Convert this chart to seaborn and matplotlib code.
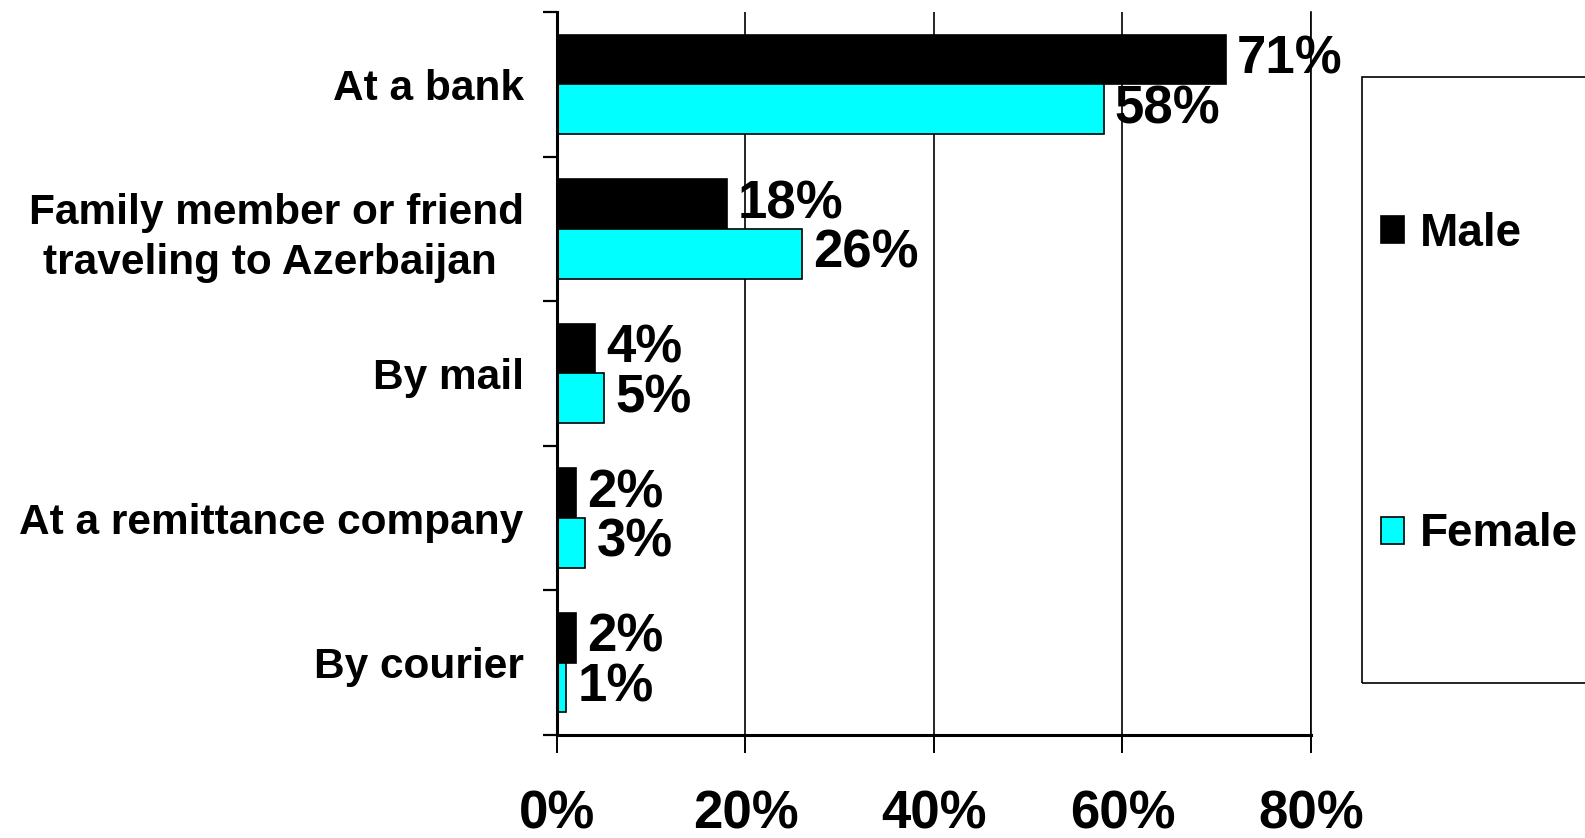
import pandas as pd
import matplotlib.pyplot as plt
import seaborn as sns
from matplotlib.patches import Patch, Rectangle
from matplotlib.ticker import FixedLocator

# === data ===
categories = ["At a bank",
              "Family member or friend\ntraveling to Azerbaijan ",
              "By mail",
              "At a remittance company",
              "By courier"]
male = [71, 18, 4, 2, 2]
female = [58, 26, 5, 3, 1]
groups = ["Male", "Female"]
colors = ["#000000", "#00FFFF"]
xticks = [0, 20, 40, 60, 80]

df = pd.DataFrame({
    "method": categories * 2,
    "share": male + female,
    "sex": ["Male"] * len(male) + ["Female"] * len(female),
})

sns.set_style("white")
plt.rcParams["font.family"] = ["Liberation Sans", "DejaVu Sans"]
plt.rcParams["font.weight"] = "bold"
plt.rcParams["text.color"] = "black"
plt.rcParams["xtick.color"] = "black"
plt.rcParams["ytick.color"] = "black"

fig = plt.figure(figsize=(15.85, 8.38), dpi=100)
ax = fig.add_axes([0.3514, 0.1229, 0.4757, 0.8628])

sns.barplot(data=df, y="method", x="share", hue="sex", hue_order=groups,
            palette=colors, saturation=1, orient="h", width=0.687,
            edgecolor="black", linewidth=1.2, ax=ax)
ax.get_legend().remove()

# value labels
for cont in ax.containers:
    ax.bar_label(cont, labels=[f"{v:g}%" for v in cont.datavalues],
                 padding=8, fontsize=38, fontweight="bold", color="black")

# axes styling
ax.set_xlim(0, 80)
ax.set_ylim(4.5, -0.5)
ax.set_xticks(xticks)
ax.set_xticklabels([f"{t}%" for t in xticks], fontsize=38, fontweight="bold")
ax.set_yticks(range(len(categories)))
ax.set_yticklabels(categories, fontsize=30.5, fontweight="bold",
                   multialignment="center", linespacing=1.3)
ax.set_xlabel("")
ax.set_ylabel("")

ax.yaxis.set_minor_locator(FixedLocator([i - 0.5 for i in range(len(categories) + 1)]))
ax.tick_params(axis="y", which="major", length=0, pad=24)
ax.tick_params(axis="y", which="minor", length=10, width=1.6, direction="out", left=True)
ax.tick_params(axis="x", which="major", length=13, width=1.4, direction="out", bottom=True, pad=26)

ax.grid(axis="x", color="black", linewidth=1.2)
ax.grid(axis="y", visible=False)
ax.set_axisbelow(True)
ax.spines["top"].set_visible(False)
ax.spines["right"].set_linewidth(1.2)
ax.spines["left"].set_linewidth(2.2)
ax.spines["bottom"].set_linewidth(2.2)
for s in ["left", "bottom", "right"]:
    ax.spines[s].set_color("black")

# legend, box drawn separately
handles = [Patch(facecolor=c, edgecolor="black", linewidth=1.2) for c in colors]
fig.legend(handles, groups, loc="center left", bbox_to_anchor=(0.871, 0.5416),
           frameon=False, prop={"size": 33, "weight": "bold"}, labelspacing=5.6,
           handlelength=0.52, handleheight=0.52, handletextpad=0.33,
           borderpad=0, borderaxespad=0)
fig.add_artist(Rectangle((0.8593, 0.185), 0.2, 0.723, transform=fig.transFigure,
                         fill=False, edgecolor="black", linewidth=1.2))

fig.savefig("out.png", dpi=100)
